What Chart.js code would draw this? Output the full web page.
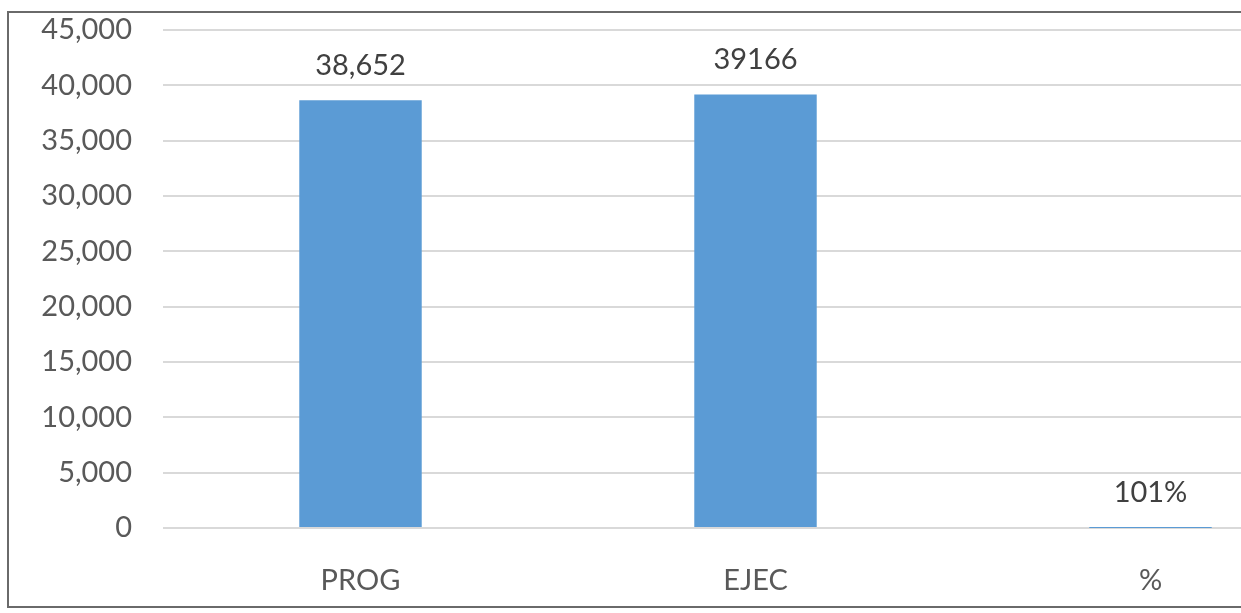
<!DOCTYPE html>
<html>
<head>
<meta charset="utf-8">
<script src="https://cdn.jsdelivr.net/npm/chart.js@4.4.1/dist/chart.umd.min.js"></script>
<style>
  html, body { margin: 0; padding: 0; background: #fff; overflow: hidden; }
  canvas { display: block; position: absolute; left: 0; top: 0; }
</style>
</head>
<body>
<canvas id="graf" width="1400" height="613"></canvas>
<script>
// Données du graphique
var categories = ['PROG', 'EJEC', '%'];
var valeurs = [38652, 39166, 1.01];
var etiquettes = ['38,652', '39166', '101%'];
var ticksY = [0, 5000, 10000, 15000, 20000, 25000, 30000, 35000, 40000, 45000];

var police = 'Lato, "Open Sans", sans-serif';

// Cadre gris (le bord droit est coupé dans l'image d'origine)
var cadrePlugin = {
  id: 'cadre',
  afterDraw: function(chart) {
    var ctx = chart.ctx;
    ctx.save();
    ctx.strokeStyle = '#6a6a6a';
    ctx.lineWidth = 2;
    ctx.beginPath();
    ctx.moveTo(1400, 12);
    ctx.lineTo(8, 12);
    ctx.lineTo(8, 607);
    ctx.lineTo(1400, 607);
    ctx.stroke();
    ctx.restore();
  }
};

// Plugin pour les étiquettes au-dessus des barres
var etiquettesPlugin = {
  id: 'etiquettes',
  afterDatasetsDraw: function(chart) {
    var ctx = chart.ctx;
    var meta = chart.getDatasetMeta(0);
    ctx.save();
    ctx.font = '29px ' + police;
    ctx.fillStyle = '#404040';
    ctx.textAlign = 'center';
    ctx.textBaseline = 'middle';
    meta.data.forEach(function(bar, i) {
      ctx.fillText(etiquettes[i], bar.x, bar.y - 35);
    });
    ctx.restore();
  }
};

new Chart(document.getElementById('graf'), {
  type: 'bar',
  data: {
    labels: categories,
    datasets: [{
      data: valeurs,
      backgroundColor: '#5B9BD5',
      borderWidth: 0,
      barPercentage: 0.31,
      categoryPercentage: 1
    }]
  },
  options: {
    responsive: false,
    animation: false,
    layout: { padding: { top: 30, right: 52, left: 9, bottom: 0 } },
    plugins: { legend: { display: false }, tooltip: { enabled: false } },
    scales: {
      x: {
        grid: { display: false },
        border: { display: false },
        ticks: { color: '#595959', font: { size: 29, family: police }, padding: 27 },
        afterFit: function(s) { s.height = 85; }
      },
      y: {
        min: 0,
        max: 45000,
        afterBuildTicks: function(s) { s.ticks = ticksY.map(function(v) { return { value: v }; }); },
        grid: { color: '#d9d9d9', lineWidth: 2, drawTicks: true, tickLength: 20, tickColor: 'rgba(0,0,0,0)' },
        border: { display: false },
        ticks: {
          color: '#595959',
          font: { size: 29, family: police },
          padding: 11,
          callback: function(v) { return v.toLocaleString('en-US'); }
        },
        afterFit: function(s) { s.width = 154; }
      }
    }
  },
  plugins: [etiquettesPlugin, cadrePlugin]
});
</script>
</body>
</html>
